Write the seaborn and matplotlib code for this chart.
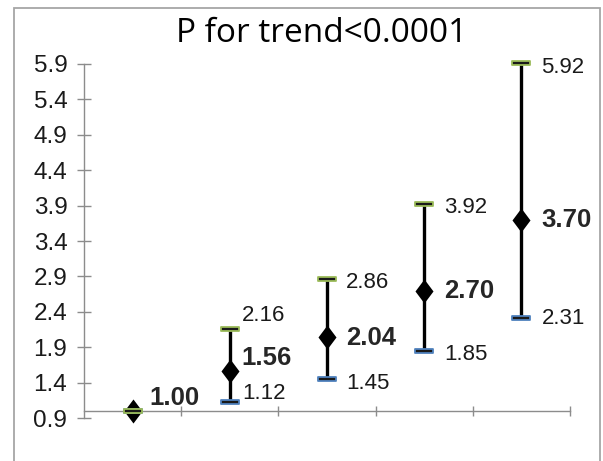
import numpy as np
import pandas as pd
import matplotlib
matplotlib.use('Agg')
import matplotlib.pyplot as plt
from matplotlib.path import Path
from matplotlib.patches import Rectangle
import seaborn as sns

# data
groups = ['G1', 'G2', 'G3', 'G4', 'G5']
or_vals = [1.00, 1.56, 2.04, 2.70, 3.70]
ci_low = [1.00, 1.12, 1.45, 1.85, 2.31]
ci_high = [1.00, 2.16, 2.86, 3.92, 5.92]
yticks = [0.9, 1.4, 1.9, 2.4, 2.9, 3.4, 3.9, 4.4, 4.9, 5.4, 5.9]
title = 'P for trend<0.0001'

df = pd.DataFrame({'group': groups, 'pos': np.arange(len(groups)),
                   'or': or_vals, 'low': ci_low, 'high': ci_high})

sns.set_style('white')
plt.rcParams['font.family'] = ['Liberation Sans', 'DejaVu Sans']

fig = plt.figure(figsize=(6.03, 4.61), dpi=100)
ax = fig.add_axes([84 / 603, 1 - 418 / 461, 486 / 603, 354 / 461])

# error bars
ax.vlines(df['pos'], df['low'], df['high'], color='black', lw=2.4, zorder=2,
          clip_on=False)

# diamonds (slightly taller than wide, like the excel marker here)
diamond = Path([(0, -1), (0.75, 0), (0, 1), (-0.75, 0), (0, -1)],
               [Path.MOVETO, Path.LINETO, Path.LINETO, Path.LINETO, Path.CLOSEPOLY])
sns.scatterplot(data=df, x='pos', y='or', marker=diamond, s=300, color='black',
                edgecolor='black', linewidth=0, ax=ax, zorder=4, legend=False,
                clip_on=False)

# caps (excel style dash marker)
cap = Path([(-1, -0.22), (1, -0.22), (1, 0.22), (-1, 0.22), (-1, -0.22)],
           [Path.MOVETO, Path.LINETO, Path.LINETO, Path.LINETO, Path.CLOSEPOLY])
sns.scatterplot(data=df, x='pos', y='low', marker=cap, s=150, color='#1a1a1a',
                edgecolor='#4f81bd', linewidth=1.3, ax=ax, zorder=5, legend=False,
                clip_on=False)
sns.scatterplot(data=df, x='pos', y='high', marker=cap, s=150, color='#1a1a1a',
                edgecolor='#9bbb59', linewidth=1.3, ax=ax, zorder=6, legend=False,
                clip_on=False)

# value labels (pixel offsets)
lab_dx = [17, 12, 19, 20, 20]
or_dy = [15, 16, 2, 2, 2]
hi_dy = [0, 16, -1, -1, -2]
lo_dy = [0, 11, -2, -1, 2]
for i, r in df.iterrows():
    ax.annotate('%.2f' % r['or'], (r['pos'], r['or']), xytext=(lab_dx[i], or_dy[i]),
                textcoords='offset pixels', ha='left', va='center_baseline',
                fontsize=18.5, fontweight='bold', zorder=7, annotation_clip=False)
    if r['high'] != r['low']:
        ax.annotate('%.2f' % r['high'], (r['pos'], r['high']), xytext=(lab_dx[i], hi_dy[i]),
                    textcoords='offset pixels', ha='left', va='center_baseline',
                    fontsize=16, color='#1a1a1a', annotation_clip=False)
        ax.annotate('%.2f' % r['low'], (r['pos'], r['low']), xytext=(lab_dx[i], lo_dy[i]),
                    textcoords='offset pixels', ha='left', va='center_baseline',
                    fontsize=16, color='#1a1a1a', annotation_clip=False)

# axes styling
ax.set_xlim(-0.5, len(groups) - 0.5)
ax.set_ylim(yticks[0], yticks[-1])
ax.set_yticks(yticks)
ax.set_yticklabels(['%.1f' % t for t in yticks])
ax.set_xticks(np.arange(len(groups)) + 0.5)
ax.set_xticklabels([])
ax.set_xlabel('')
ax.set_ylabel('')
ax.spines['bottom'].set_position(('data', 1.0))
for s in ['top', 'right']:
    ax.spines[s].set_visible(False)
for s in ['left', 'bottom']:
    ax.spines[s].set_color('#8c8c8c')
    ax.spines[s].set_linewidth(1.0)
ax.tick_params(axis='x', bottom=True, direction='inout', length=7, width=1,
               color='#8c8c8c')
ax.tick_params(axis='y', left=True, direction='inout', length=10, width=1,
               color='#8c8c8c', pad=7, labelcolor='#1a1a1a', labelsize=17.5)
ax.patch.set_alpha(0)

fig.text(322 / 603, 1 - 33 / 461, title, ha='center', va='center',
         fontsize=24, family=['Open Sans', 'DejaVu Sans'], color='black')

# chart area border
fig.patches.append(Rectangle((14 / 603, -0.1), 586 / 603, 1.1 - 8 / 461,
                             transform=fig.transFigure, fill=False,
                             edgecolor='#a6a6a6', lw=1.3))

fig.savefig('out.png', dpi=100)
